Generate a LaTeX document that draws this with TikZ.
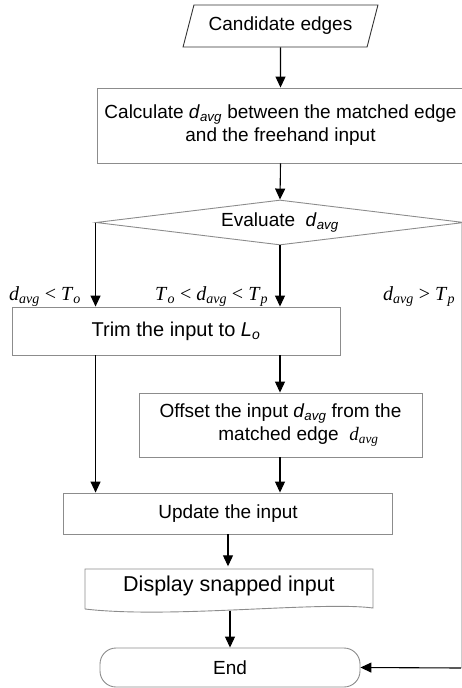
\documentclass[tikz,border=0pt]{standalone}
\usepackage{fontspec}
\setmainfont{Liberation Sans}
\newfontfamily\tmsfont{Liberation Serif}
\usetikzlibrary{shapes.geometric,arrows.meta}
\newcommand\boxfont{\fontsize{19}{23}\selectfont}
\newcommand\lblfont{\fontsize{20}{22}\selectfont\tmsfont}
\newcommand\dav{\textit{d}\textsubscript{\textit{avg}}}
\newcommand\tdav{{\tmsfont\itshape d\textsubscript{avg}}}
\begin{document}
\begin{tikzpicture}[x=1pt,y=-1pt,
  box/.style={draw=black!45, line width=0.9pt, inner sep=2pt, font=\boxfont},
  arr/.style={draw=black, line width=1.1pt, -{Triangle[length=11pt,width=10pt]}},
  grayline/.style={draw=black!20, line width=0.8pt},
  lbl/.style={inner sep=0pt, font=\lblfont}]
\useasboundingbox (0,0) rectangle (462,688);

\node[box, trapezium, draw=black!80, trapezium left angle=63, trapezium right angle=117,
      trapezium stretches=true, minimum width=195pt, minimum height=42pt, inner sep=0pt]
      (cand) at (280.5,26) {Candidate edges};

\node[box, minimum width=367pt, minimum height=75pt, align=center]
      (calc) at (280.5,125.5) {Calculate \dav{} between the matched edge\\and the freehand input};

\node[box, diamond, aspect=8.2, minimum width=368pt, minimum height=45pt, inner sep=0pt]
      (eval) at (280,222.5) {Evaluate \ \dav};

\node[box, minimum width=328pt, minimum height=48pt, font=\fontsize{20}{23}\selectfont]
      (trim) at (176,331) {Trim the input to \textit{L}\textsubscript{\textit{o}}};

\node[box, minimum width=283pt, minimum height=64pt, align=center]
      (off) at (280.5,425) {Offset the input \dav{} from the\\\hspace*{36pt}matched edge \ \tdav};

\node[box, minimum width=329pt, minimum height=41pt]
      (upd) at (228,513.5) {Update the input};

\node[minimum width=288pt, minimum height=39pt, inner sep=0pt, font=\fontsize{21.5}{24}\selectfont]
      (disp) at (229,586) {Display snapped input};
\draw[draw=black!45, line width=0.9pt] (85,609) -- (85,569) -- (373,569) -- (373,608)
      .. controls (320,601) and (170,619) .. (85,609);

\node[box, rounded corners=16pt, minimum width=260pt, minimum height=39pt]
      (endn) at (230,667.5) {End};

\coordinate (dispb) at (230,611);
\coordinate (rc) at (461,222.5);
\coordinate (rb) at (461,668);

\draw[arr] (cand.south) -- (calc.north);
\draw[arr] (calc.south) -- (eval.north);
\draw[arr] (eval.west) -- (eval.west |- trim.north);
\draw[arr] (eval.south) -- (eval.south |- trim.north);
\draw[arr] (eval.south |- trim.south) -- (eval.south |- off.north);
\draw[arr] (eval.west |- trim.south) -- (eval.west |- upd.north);
\draw[arr] (eval.south |- off.south) -- (eval.south |- upd.north);
\draw[arr] (upd.south) -- (upd.south |- disp.north);
\draw[arr] (dispb) -- (endn.north);
\draw[grayline] (rc) -- (rb);
\draw[arr] (rb) -- (endn.east);

\node[lbl, anchor=base west] (l1) at (9,300) {\tdav{} < \textit{T}\textsubscript{\textit{o}}};
\node[lbl, anchor=base west] (l2) at (155,300) {\textit{T}\textsubscript{\textit{o}} < \tdav{} < \textit{T}\textsubscript{\textit{p}}};
\node[lbl, anchor=base west] (l3) at (383,300) {\tdav{} > \textit{T}\textsubscript{\textit{p}}};
\end{tikzpicture}
\end{document}
